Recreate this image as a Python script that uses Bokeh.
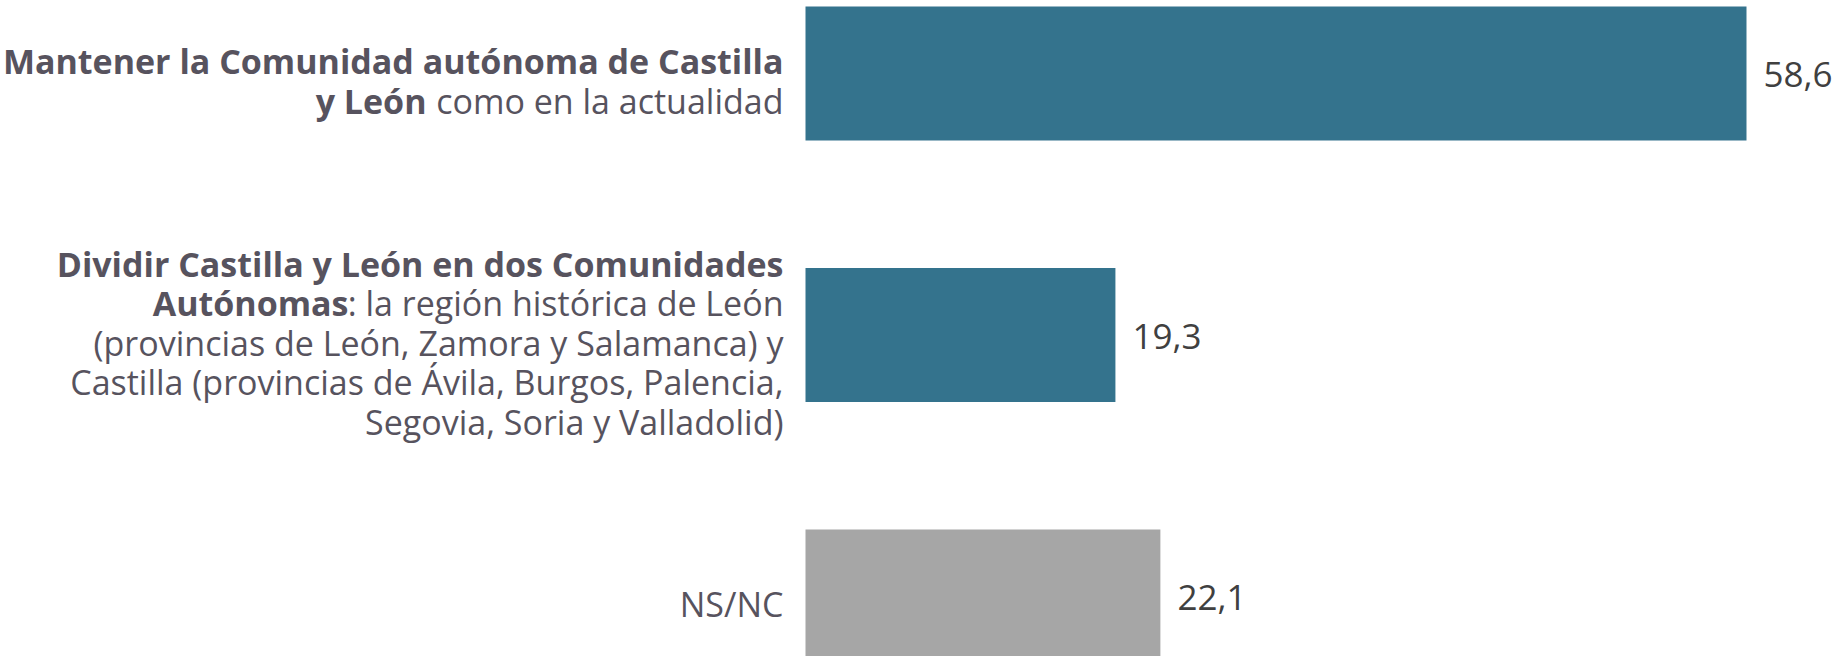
from bokeh.plotting import figure
from bokeh.models import Range1d, Label, ColumnDataSource
from bokeh.core.properties import value
from bokeh.embed import file_html
from bokeh.resources import INLINE

# ---- data ----
categories = [
    "Mantener la Comunidad autónoma de Castilla y León como en la actualidad",
    "Dividir Castilla y León en dos Comunidades Autónomas: la región histórica de León "
    "(provincias de León, Zamora y Salamanca) y Castilla (provincias de Ávila, Burgos, "
    "Palencia, Segovia, Soria y Valladolid)",
    "NS/NC",
]
values = [58.6, 19.3, 22.1]
bar_colors = ["#34738D", "#34738D", "#A6A6A6"]
value_labels = ["58,6", "19,3", "22,1"]

# label lines: list of (bold part, normal part) per line
label_lines = [
    [("Mantener la Comunidad autónoma de Castilla", ""),
     ("y León", "como en la actualidad")],
    [("Dividir Castilla y León en dos Comunidades", ""),
     ("Autónomas", ": la región histórica de León"),
     ("", "(provincias de León, Zamora y Salamanca) y"),
     ("", "Castilla (provincias de Ávila, Burgos, Palencia,"),
     ("", "Segovia, Soria y Valladolid)")],
    [("", "NS/NC")],
]

# ---- layout ----
W, H = 1839, 656
PX_PER_UNIT = 16.058
ZERO_X = 805
PX_PER_CAT = 261.5
FIRST_CENTER = 73
FONT = "Open Sans"
FS = "34px"
VFS = "35px"
TEXT_COLOR = "#57535E"
VALUE_COLOR = "#404040"
LABEL_RIGHT = 783
LINE_H = 39.5
TEXT_DY = 7.5

# approximate widths (incl. leading gap) of normal-weight tails (Open Sans 34px)
tail_widths = {"como en la actualidad": 357, ": la región histórica de León": 435}

x_start = -ZERO_X / PX_PER_UNIT
y_top = -FIRST_CENTER / PX_PER_CAT

p = figure(width=W, height=H, output_backend="svg", toolbar_location=None,
           x_range=Range1d(x_start, x_start + W / PX_PER_UNIT),
           y_range=Range1d(y_top + H / PX_PER_CAT, y_top),
           min_border=0)
p.axis.visible = False
p.grid.visible = False
p.outline_line_color = None
p.background_fill_color = "white"
p.border_fill_color = "white"

idx = list(range(len(values)))
src = ColumnDataSource(dict(y=idx, right=values, color=bar_colors, lab=value_labels))
p.hbar(y="y", left=0, right="right", height=134 / PX_PER_CAT, color="color",
       line_color=None, source=src)
p.text(x="right", y="y", text="lab", source=src, x_offset=17, y_offset=1,
       text_font=value(FONT), text_font_size=VFS, text_color=VALUE_COLOR,
       text_align="left", text_baseline="middle")

for i, lines in enumerate(label_lines):
    n = len(lines)
    for k, (bold, normal) in enumerate(lines):
        dy = TEXT_DY + (k - (n - 1) / 2) * LINE_H
        yy = i + dy / PX_PER_CAT
        right = LABEL_RIGHT
        if normal:
            p.add_layout(Label(x=right, y=yy, x_units="screen", y_units="data",
                               text=normal, text_font=FONT, text_font_size=FS,
                               text_color=TEXT_COLOR, text_align="right",
                               text_baseline="middle"))
            if bold:
                right -= tail_widths.get(normal, 0)
        if bold:
            p.add_layout(Label(x=right, y=yy, x_units="screen", y_units="data",
                               text=bold, text_font=FONT, text_font_size=FS,
                               text_font_style="bold",
                               text_color=TEXT_COLOR, text_align="right",
                               text_baseline="middle"))

open("out.html", "w").write(file_html(p, INLINE))
